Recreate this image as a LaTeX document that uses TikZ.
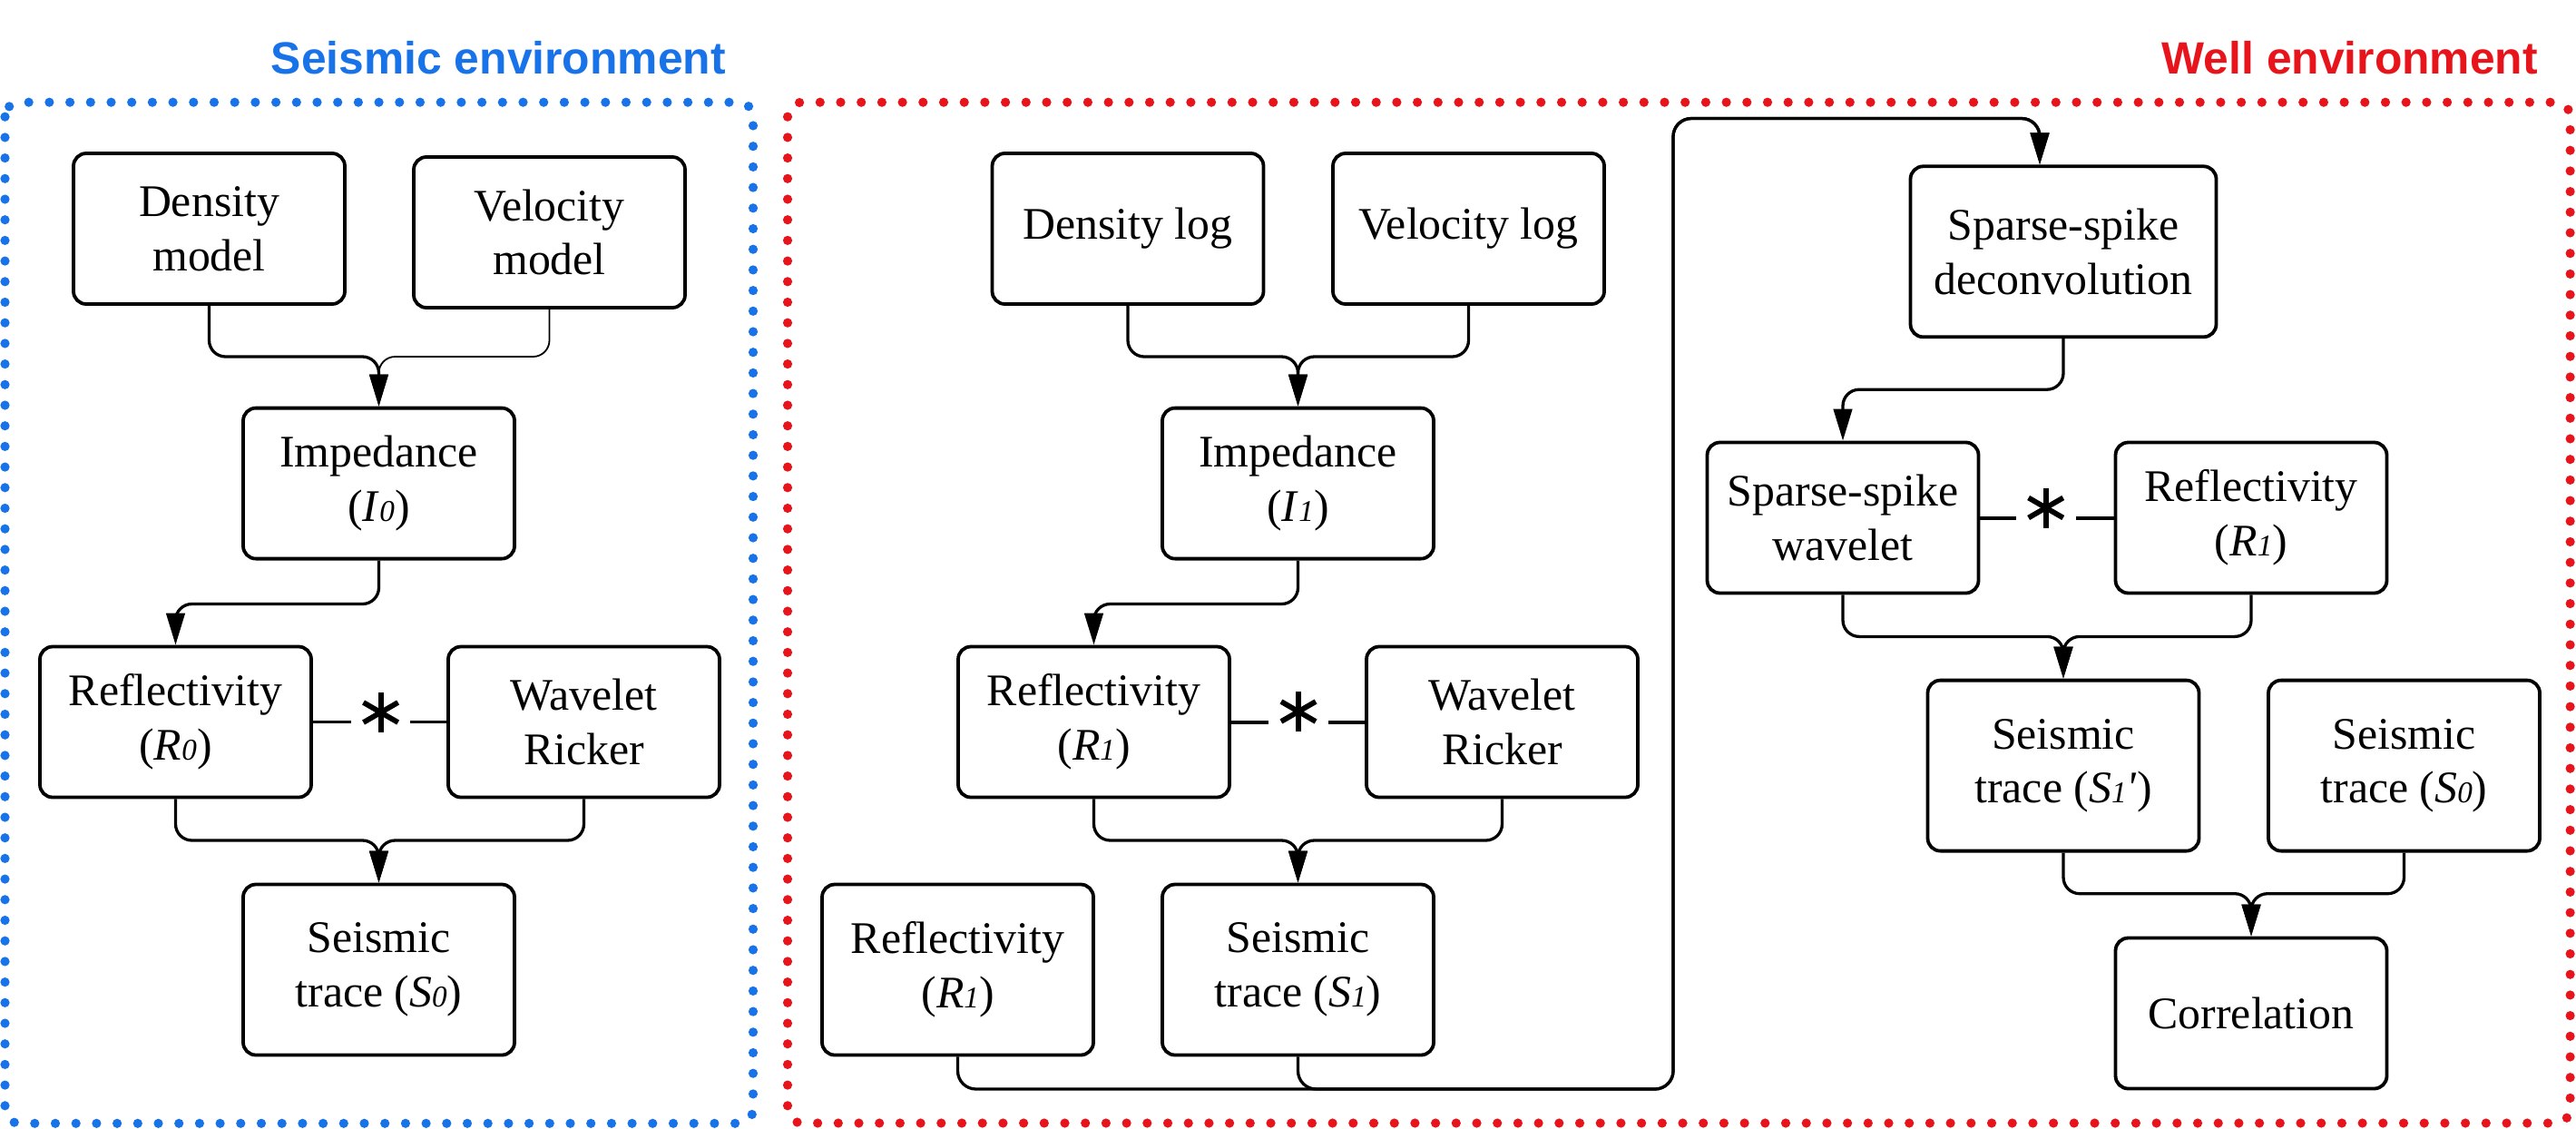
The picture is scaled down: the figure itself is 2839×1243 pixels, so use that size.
\documentclass[tikz,border=0pt]{standalone}
\usepackage{fontspec}
\setmainfont{Liberation Serif}
\newfontfamily\titlefont{Liberation Sans}
\usetikzlibrary{arrows.meta}
\definecolor{envblue}{RGB}{25,115,232}
\definecolor{envred}{RGB}{232,20,28}
\newcommand\subd[1]{{\fontsize{8.3pt}{8pt}\selectfont\itshape #1}}
\begin{document}
\begin{tikzpicture}[x=0.25pt,y=-0.25pt,
  flowbox/.style={draw, line width=0.95pt, rounded corners=3.5pt, align=center, inner sep=0pt,
    minimum width=74.75pt, minimum height=41.5pt, font=\fontsize{12.45pt}{14.9pt}\selectfont},
  tallbox/.style={minimum height=47pt},
  widebox/.style={minimum width=84.25pt},
  conn/.style={line width=0.82pt, rounded corners=4.5pt, -{Triangle[length=8.75pt,width=5.1pt]}},
  loopconn/.style={conn, rounded corners=5pt},
  thinconn/.style={conn, line width=0.45pt},
  starline/.style={line width=1pt},
  thinstarline/.style={line width=0.55pt},
  startext/.style={circle, inner sep=0pt, minimum size=16pt,
    path picture={\foreach \a in {90,30,150}{\draw[line width=1.45pt]
      ([shift={(\a:5.5pt)}]path picture bounding box.center) --
      ([shift={(\a:-5.5pt)}]path picture bounding box.center);}}},
  envtitle/.style={anchor=base east, font=\titlefont\bfseries\fontsize{12.45pt}{14pt}\selectfont},
  envframe/.style={line width=2.55pt, line cap=round, dash pattern=on 0pt off 5.675pt, rounded corners=4pt}
]
\useasboundingbox (0,0) rectangle (2839,1243);

% environments
\node[envtitle, text=envblue] (tb) at (814,81) {Seismic environment};
\node[envtitle, text=envred] (tr) at (2811,81) {Well environment};
\draw[envframe, envblue] (5.5,112.7) rectangle (830,1237.8);
\draw[envframe, envred] (868,112.7) rectangle (2832.6,1237.5);

% seismic environment nodes
\node[flowbox] (dm) at (230.5,252) {Density\\model};
\node[flowbox] (vm) at (605.5,256) {Velocity\\model};
\node[flowbox] (i0) at (417.5,532.6) {Impedance\\(\textit{I}\subd{0})};
\node[flowbox] (r0) at (193.5,795.5) {Reflectivity\\(\textit{R}\subd{0})};
\node[flowbox] (w0) at (643.5,795.5) {Wavelet\\Ricker};
\node[flowbox, tallbox] (s0) at (417.5,1068.5) {Seismic\\trace (\textit{S}\subd{0})};
\node[startext] (x0) at (419.6,785) {};

% well environment nodes
\node[flowbox] (dl) at (1243,252) {Density log};
\node[flowbox] (vl) at (1618.5,252) {Velocity log};
\node[flowbox] (i1) at (1430.5,532.6) {Impedance\\(\textit{I}\subd{1})};
\node[flowbox] (r1) at (1205.5,795.5) {Reflectivity\\(\textit{R}\subd{1})};
\node[flowbox] (w1) at (1655.5,795.5) {Wavelet\\Ricker};
\node[flowbox, tallbox] (rb) at (1055.5,1068.5) {Reflectivity\\(\textit{R}\subd{1})};
\node[flowbox, tallbox] (s1) at (1430.5,1068.5) {Seismic\\trace (\textit{S}\subd{1})};
\node[startext] (x1) at (1431,784) {};

\node[flowbox, tallbox, widebox] (sd) at (2274,277.3) {Sparse-spike\\deconvolution};
\node[flowbox] (sw) at (2031,570.5) {Sparse-spike\\wavelet};
\node[flowbox] (r2) at (2481,570.5) {Reflectivity\\(\textit{R}\subd{1})};
\node[startext] (x2) at (2254.7,559.5) {};
\node[flowbox, tallbox] (st) at (2274,843.6) {Seismic\\trace (\textit{S}\subd{1}\textit{\textquotesingle})};
\node[flowbox, tallbox] (so) at (2649.5,843.6) {Seismic\\trace (\textit{S}\subd{0})};
\node[flowbox] (co) at (2481,1116.5) {Correlation};

% junction coordinates
\coordinate (j1) at (417.5,393);
\coordinate (j2) at (417.5,926);
\coordinate (j3) at (1430.5,393);
\coordinate (j4) at (1430.5,926);
\coordinate (j5) at (2274,701.4);
\coordinate (j6) at (2481,984.7);
\coordinate (c1) at (1844,1200);
\coordinate (c2) at (2248,130.5);

% seismic environment connectors
\draw[conn] (dm.south) |- (j1) -- (i0.north);
\draw[thinconn] (vm.south) |- (j1) -- (i0.north);
\draw[conn] (i0.south) -- ++(0,48) -| (r0.north);
\draw[conn] (r0.south) |- (j2) -- (s0.north);
\draw[conn] (w0.south) |- (j2) -- (s0.north);
\draw[thinstarline] (r0.east) -- (r0.east -| x0.west);
\draw[thinstarline] (x0.east |- w0.west) -- (w0.west);

% well environment connectors
\draw[conn] (dl.south) |- (j3) -- (i1.north);
\draw[conn] (vl.south) |- (j3) -- (i1.north);
\draw[conn] (i1.south) -- ++(0,48) -| (r1.north);
\draw[conn] (r1.south) |- (j4) -- (s1.north);
\draw[conn] (w1.south) |- (j4) -- (s1.north);
\draw[starline] (r1.east) -- (r1.east -| x1.west);
\draw[starline] (x1.east |- w1.west) -- (w1.west);

\draw[loopconn] (rb.south) |- (c1) |- (c2) -- (sd.north -| c2);
\draw[loopconn] (s1.south) |- (c1) |- (c2) -- (sd.north -| c2);
\draw[conn] (sd.south) -- ++(0,56) -| (sw.north);
\draw[conn] (sw.south) |- (j5) -- (st.north);
\draw[conn] (r2.south) |- (j5) -- (st.north);
\draw[starline] (sw.east) -- (sw.east -| x2.west);
\draw[starline] (x2.east |- r2.west) -- (r2.west);
\draw[conn] (st.south) |- (j6) -- (co.north);
\draw[conn] (so.south) |- (j6) -- (co.north);
\end{tikzpicture}
\end{document}
